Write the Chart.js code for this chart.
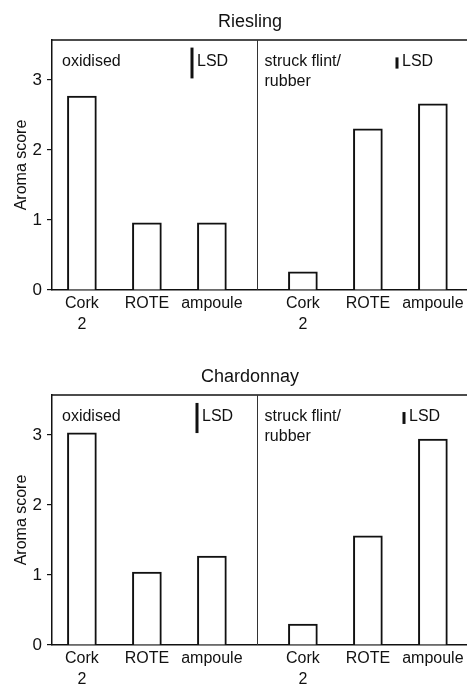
<!DOCTYPE html>
<html>
<head>
<meta charset="utf-8">
<script src="https://cdn.jsdelivr.net/npm/chart.js@4"></script>
<style>
  html, body { margin: 0; padding: 0; background: #fff; overflow: hidden; }
  .panel { width: 467px; height: 355px; }
</style>
</head>
<body>
<div class="panel"><canvas id="riesling" width="467" height="355"></canvas></div>
<div class="panel"><canvas id="chardonnay" width="467" height="355"></canvas></div>
<script>
// closures, same order in both halves of each panel
var closures = [['Cork', '2'], 'ROTE', 'ampoule', ['Cork', '2'], 'ROTE', 'ampoule'];
var groups = [['oxidised'], ['struck flint/', 'rubber']];
var yTicks = [0, 1, 2, 3];

// aroma scores: oxidised (first three), struck flint/rubber (last three)
var rieslingScores = [2.77, 0.96, 0.96, 0.26, 2.30, 2.66];
var rieslingLsd = [0.44, 0.16];

var chardonnayScores = [3.03, 1.04, 1.27, 0.30, 1.56, 2.94];
var chardonnayLsd = [0.43, 0.17];

var family = '"Liberation Sans", Arial, sans-serif';
var ink = '#111';

Chart.defaults.font.family = family;
Chart.defaults.color = ink;

// leave a wider gap between the two attribute groups
function xPos(i) {
  return i + (i >= 3 ? 0.4 : 0);
}

// box top, group divider, group names, LSD bars and panel title
var panelText = {
  id: 'panelText',
  afterDraw: function (chart, args, opts) {
    var ctx = chart.ctx;
    var area = chart.chartArea;
    var x = chart.scales.x;
    var y = chart.scales.y;
    var split = Math.round(x.getPixelForValue((xPos(2) + xPos(3)) / 2)) + 0.5;

    ctx.save();
    ctx.strokeStyle = ink;
    ctx.lineWidth = 1.5;
    ctx.beginPath();
    ctx.moveTo(area.left, area.top);
    ctx.lineTo(area.right, area.top);
    ctx.stroke();

    ctx.lineWidth = 1;
    ctx.strokeStyle = '#333';
    ctx.beginPath();
    ctx.moveTo(split, area.top);
    ctx.lineTo(split, area.bottom);
    ctx.stroke();

    ctx.fillStyle = ink;
    ctx.textBaseline = 'middle';
    ctx.textAlign = 'center';
    ctx.font = '18px ' + family;
    ctx.fillText(opts.title, 250, 22);

    ctx.textAlign = 'left';
    ctx.font = '16px ' + family;
    var starts = [area.left + 10, split + 7];
    groups.forEach(function (lines, g) {
      lines.forEach(function (line, k) {
        ctx.fillText(line, starts[g], area.top + 22 + k * 20);
      });
    });

    opts.lsd.forEach(function (v, k) {
      var len = y.getPixelForValue(0) - y.getPixelForValue(v);
      var bx = opts.lsdX[k];
      var cy = area.top + 23;
      ctx.fillRect(bx - 1.5, cy - len / 2, 3, len);
      ctx.fillText('LSD', bx + 5, cy - 1);
    });
    ctx.restore();
  }
};

function makePanel(id, title, scores, lsd, lsdX) {
  return new Chart(document.getElementById(id), {
    type: 'bar',
    data: {
      datasets: [{
        data: scores.map(function (v, i) { return { x: xPos(i), y: v }; }),
        backgroundColor: '#fff',
        borderColor: ink,
        borderWidth: 2,
        barThickness: 29
      }]
    },
    options: {
      responsive: false,
      animation: false,
      devicePixelRatio: 1,
      layout: { padding: { top: 40, left: 0, right: 0, bottom: 0 } },
      plugins: {
        legend: { display: false },
        tooltip: { enabled: false },
        panelText: { title: title, lsd: lsd, lsdX: lsdX }
      },
      scales: {
        x: {
          type: 'linear',
          min: -0.46,
          max: 5.925,
          offset: false,
          grid: { display: false, drawTicks: false },
          border: { display: true, color: ink, width: 1.5 },
          afterBuildTicks: function (scale) {
            scale.ticks = closures.map(function (c, i) { return { value: xPos(i) }; });
          },
          ticks: {
            autoSkip: false,
            maxRotation: 0,
            padding: 3,
            font: { size: 16, lineHeight: 1.3 },
            callback: function (value, index) { return closures[index]; }
          },
          afterFit: function (scale) { scale.height = 65; }
        },
        y: {
          min: 0,
          max: 3.57,
          afterBuildTicks: function (scale) {
            scale.ticks = yTicks.map(function (t) { return { value: t }; });
          },
          grid: { display: true, drawOnChartArea: false, drawTicks: true, tickLength: 5, color: ink, lineWidth: 1.2 },
          border: { display: true, color: ink, width: 1.5 },
          ticks: { padding: 5, font: { size: 17 } },
          title: { display: true, text: 'Aroma score', font: { size: 16 }, padding: { top: 12, bottom: 0 } },
          afterFit: function (scale) { scale.width = 52; }
        }
      }
    },
    plugins: [panelText]
  });
}

makePanel('riesling', 'Riesling', rieslingScores, rieslingLsd, [192, 397]);
makePanel('chardonnay', 'Chardonnay', chardonnayScores, chardonnayLsd, [197, 404]);
</script>
</body>
</html>
